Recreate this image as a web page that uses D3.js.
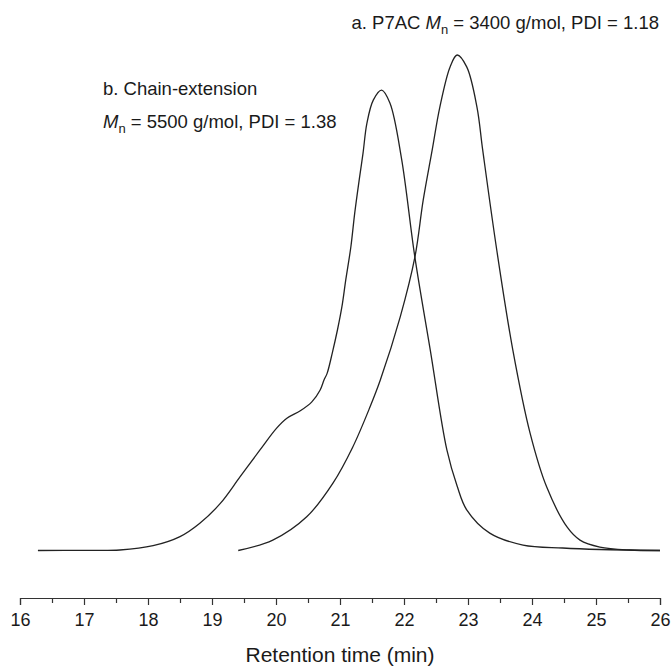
<!DOCTYPE html>
<html>
<head>
<meta charset="utf-8">
<script src="https://cdn.jsdelivr.net/npm/d3@7"></script>
<style>
  body { margin: 0; background: #fff; }
  text { font-family: "Liberation Sans", Arial, sans-serif; fill: #1a1a1a; }
</style>
</head>
<body>
<div class="svg-div"></div>
<script>
// retention time (min) and relative intensity
var timeA = [19.41, 19.95, 20.48, 20.89, 21.2, 21.47, 21.63, 21.94, 22.17, 22.3, 22.44, 22.56, 22.72, 22.83, 22.98, 23.14, 23.23, 23.45, 23.7, 23.97, 24.23, 24.55, 24.75, 25.06, 25.53, 26];
var signalA = [0, 2.1, 6.8, 13.6, 20.9, 29.0, 34.4, 47.1, 59.2, 70.7, 80.8, 89.5, 97.6, 100, 97.6, 89.5, 80.8, 60.6, 40.5, 23.7, 12.8, 4.7, 2.1, 0.7, 0.1, 0];

var timeB = [16.28, 17.0, 17.56, 18.08, 18.5, 18.81, 19.13, 19.44, 19.75, 20.01, 20.17, 20.38, 20.56, 20.69, 20.75, 20.8, 20.88, 20.96, 21.03, 21.09, 21.17, 21.23, 21.3, 21.36, 21.42, 21.52, 21.65, 21.78, 21.96, 22.17, 22.41, 22.67, 22.83, 22.98, 23.34, 23.86, 24.48, 25.06, 26];
var signalB = [0, 0.03, 0.1, 0.97, 2.8, 5.5, 9.5, 14.9, 20.3, 24.7, 26.7, 28.2, 30.0, 32.4, 34.4, 35.8, 39.9, 44.5, 49.2, 54.6, 61.3, 68.1, 74.8, 80.2, 86.2, 90.9, 92.9, 90.3, 79.2, 59.2, 40.5, 20.3, 13.0, 8.2, 3.5, 1.1, 0.5, 0.2, 0];

var majorTicks = [16, 17, 18, 19, 20, 21, 22, 23, 24, 25, 26];
var minorTicks = [16.5, 17.5, 18.5, 19.5, 20.5, 21.5, 22.5, 23.5, 24.5, 25.5];

var w = 672;
var h = 666;

var svg = d3.select(".svg-div")
	.append("svg")
	.attr("width", w)
	.attr("height", h);

var x = d3.scaleLinear().domain([16, 26]).range([20, 660]);
var y = d3.scaleLinear().domain([0, 100]).range([550.5, 55]);

// axis
var axisY = 598;
svg.append("g")
	.attr("transform", "translate(0," + axisY + ")")
	.call(d3.axisBottom(x).tickValues(minorTicks).tickSize(5).tickFormat(""))
	.call(function(g) { g.select(".domain").remove(); });

var ax = svg.append("g")
	.attr("transform", "translate(0," + axisY + ")")
	.call(d3.axisBottom(x).tickValues(majorTicks).tickSizeOuter(0).tickSize(7).tickPadding(8).tickFormat(d3.format("d")));
ax.selectAll("text").attr("font-size", 18).attr("font-family", "Liberation Sans, Arial, sans-serif").attr("fill", "#1a1a1a");
svg.selectAll(".tick line, .domain").attr("stroke", "#333").attr("stroke-width", 1.2);

svg.append("text")
	.attr("x", 340)
	.attr("y", 662)
	.attr("text-anchor", "middle")
	.attr("font-size", 21)
	.text("Retention time (min)");

// traces
var line = d3.line()
	.x(function(d) { return x(d[0]); })
	.y(function(d) { return y(d[1]); })
	.curve(d3.curveCatmullRom.alpha(0.5));

[[timeA, signalA], [timeB, signalB]].forEach(function(s) {
	svg.append("path")
		.datum(d3.zip(s[0], s[1]))
		.attr("d", line)
		.attr("fill", "none")
		.attr("stroke", "#222")
		.attr("stroke-width", 1.3);
});

// labels
function mnLabel(xx, yy, anchor, before, after) {
	var el = svg.append("text")
		.attr("x", xx)
		.attr("y", yy)
		.attr("font-size", 18.5)
		.attr("text-anchor", anchor);
	el.append("tspan").text(before);
	el.append("tspan").attr("font-style", "italic").text("M");
	el.append("tspan").attr("dy", 5).attr("font-size", 13).text("n");
	el.append("tspan").attr("dy", -5).text(after);
	return el;
}

mnLabel(659, 29, "end", "a. P7AC ", " = 3400 g/mol, PDI = 1.18");

svg.append("text")
	.attr("x", 103)
	.attr("y", 95)
	.attr("font-size", 18.5)
	.text("b. Chain-extension");

mnLabel(103, 128, "start", "", " = 5500 g/mol, PDI = 1.38");
</script>
</body>
</html>
